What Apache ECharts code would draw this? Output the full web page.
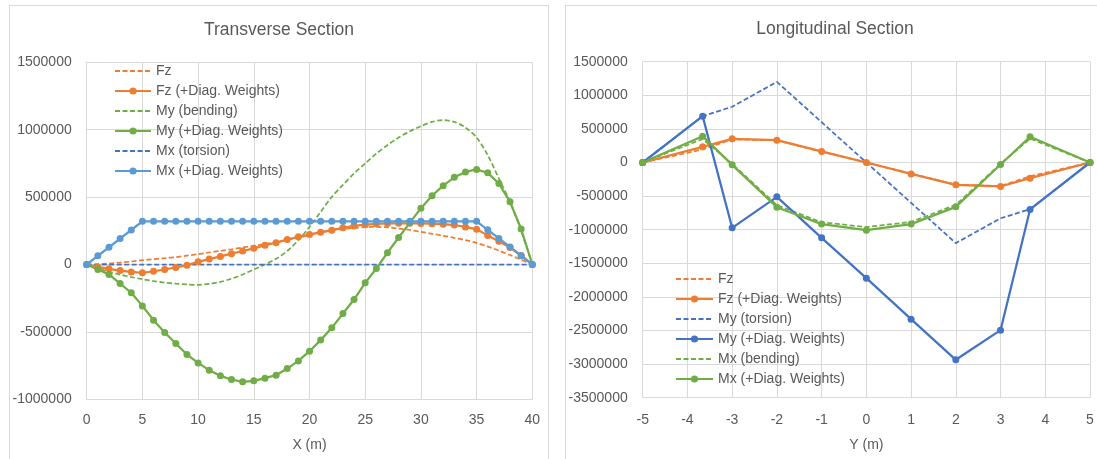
<!DOCTYPE html>
<html>
<head>
<meta charset="utf-8">
<script src="https://cdn.jsdelivr.net/npm/echarts@6/dist/echarts.min.js"></script>
<style>
  html, body { margin: 0; padding: 0; background: #fff; }
  body { width: 1097px; height: 459px; position: relative; overflow: hidden; }
  .frame { position: absolute; border: 1px solid #d9d9d9; background: #fff; }
  #chart { position: absolute; left: 0; top: 0; width: 1097px; height: 459px; }
</style>
</head>
<body>
<div class="frame" style="left:9px;top:5px;width:538px;height:470px;"></div>
<div class="frame" style="left:565px;top:5px;width:540px;height:470px;"></div>
<div id="chart"></div>
<script>
// ---------- Transverse section (X in m) ----------
const xT = [0,1,2,3,4,5,6,7,8,9,10,11,12,13,14,15,16,17,18,19,20,21,22,23,24,25,26,27,28,29,30,31,32,33,34,35,36,37,38,39,40];
const fzT = [0,2000,7000,14000,22000,32000,40000,47000,55000,66000,77000,89000,101000,113000,126000,138000,152000,166000,181000,199000,218000,237000,253000,264000,272000,277000,279000,275000,267000,256000,242000,228000,213000,197000,181000,160000,133000,103000,70000,36000,0];
const fzDiagT = [0,-18000,-32000,-45000,-55000,-62000,-50000,-37000,-22000,-5000,20000,40000,60000,80000,100000,120000,143000,162000,185000,206000,222000,240000,255000,272000,286000,295000,302000,305000,306000,306000,305000,303000,299000,293000,279000,261000,216000,172000,126000,67000,0];
const myBendT = [0,-28000,-54000,-75000,-93000,-109000,-123000,-134000,-142000,-148000,-151000,-143000,-129000,-105000,-74000,-37000,0,42000,100000,180000,279000,390000,502000,590000,675000,749000,823000,885000,942000,988000,1026000,1058000,1071000,1058000,1016000,942000,811000,638000,465000,250000,0];
const myDiagT = [0,-37000,-74000,-141000,-210000,-307000,-413000,-504000,-586000,-668000,-730000,-784000,-826000,-853000,-870000,-863000,-843000,-821000,-772000,-715000,-643000,-561000,-470000,-364000,-260000,-136000,-30000,88000,200000,309000,418000,510000,585000,647000,687000,705000,680000,601000,465000,263000,0];
const mxTorT = [0,0,0,0,0,0,0,0,0,0,0,0,0,0,0,0,0,0,0,0,0,0,0,0,0,0,0,0,0,0,0,0,0,0,0,0,0,0,0,0,0];
const mxDiagT = [0,64000,128000,192000,256000,320000,320000,320000,320000,320000,320000,320000,320000,320000,320000,320000,320000,320000,320000,320000,320000,320000,320000,320000,320000,320000,320000,320000,320000,320000,320000,320000,320000,320000,320000,320000,257000,193000,130000,64000,0];

// ---------- Longitudinal section (Y in m) ----------
const yL = [-5,-3.66,-3,-2,-1,0,1,2,3,3.66,5];
const fzL = [0,195000,345000,330000,160000,0,-165000,-330000,-350000,-205000,0];
const fzDiagL = [0,233000,352000,332000,165000,0,-170000,-332000,-357000,-233000,0];
const myTorL = [0,690000,830000,1200000,600000,0,-600000,-1200000,-830000,-695000,0];
const myDiagL = [0,690000,-972000,-511000,-1121000,-1721000,-2331000,-2936000,-2495000,-699000,0];
const mxBendL = [0,350000,-20000,-635000,-890000,-960000,-885000,-630000,-20000,355000,0];
const mxDiagL = [0,392000,-35000,-665000,-917000,-1007000,-917000,-660000,-30000,382000,0];

const namesT = ['Fz','Fz (+Diag. Weights)','My (bending)','My (+Diag. Weights)','Mx (torsion)','Mx (+Diag. Weights)'];
const namesL = ['Fz','Fz (+Diag. Weights)','My (torsion)','My (+Diag. Weights)','Mx (bending)','Mx (+Diag. Weights)'];

const ORANGE = '#ED7D31', GREEN = '#70AD47', BLUE = '#4472C4', LBLUE = '#5B9BD5';
const TXT = '#595959', GRID = '#d9d9d9';
const FONT = 'Liberation Sans, Arial, sans-serif';
const ZW = '\u200b'; // keeps the two legends' series apart

function pairs(xs, ys) { return xs.map((x, i) => [x, ys[i]]); }

function dashed(name, xs, ys, color, idx, smooth) {
  return {
    name: name, type: 'line', xAxisIndex: idx, yAxisIndex: idx,
    data: pairs(xs, ys), symbol: 'none', smooth: smooth ? 0.3 : false,
    lineStyle: { color: color, width: 1.75, type: [5, 2.5] },
    itemStyle: { color: color }, z: 2
  };
}
function marked(name, xs, ys, color, idx) {
  return {
    name: name, type: 'line', xAxisIndex: idx, yAxisIndex: idx,
    data: pairs(xs, ys), symbol: 'circle', symbolSize: 7, showSymbol: true,
    lineStyle: { color: color, width: 2.25 },
    itemStyle: { color: color }, z: 3
  };
}

function legendData(names, dashedIdx, suffix) {
  return names.map((n, i) => dashedIdx.indexOf(i) >= 0
    ? { name: n + suffix, itemStyle: { opacity: 0 } }
    : { name: n + suffix });
}

const axisLabel = { color: TXT, fontSize: 14, fontFamily: FONT, formatter: v => String(v) };

const chart = echarts.init(document.getElementById('chart'), null, { renderer: 'canvas' });
chart.setOption({
  animation: false,
  backgroundColor: 'transparent',
  title: [
    { text: 'Transverse Section', left: 279, top: 21, padding: 0, textAlign: 'center',
      textStyle: { color: TXT, fontSize: 17.5, fontWeight: 'normal', fontFamily: FONT } },
    { text: 'Longitudinal Section', left: 835, top: 20, padding: 0, textAlign: 'center',
      textStyle: { color: TXT, fontSize: 17.5, fontWeight: 'normal', fontFamily: FONT } }
  ],
  grid: [
    { left: 86.7, top: 62.3, width: 445.6, height: 337, containLabel: false },
    { left: 642.7, top: 61.7, width: 447.3, height: 336, containLabel: false }
  ],
  legend: [
    { orient: 'vertical', left: 114, top: 63, padding: 0, itemWidth: 36, itemHeight: 9, itemGap: 4,
      textStyle: { color: TXT, fontSize: 14, fontFamily: FONT, lineHeight: 16 },
      data: legendData(namesT, [0, 2, 4], ''), selectedMode: false },
    { orient: 'vertical', left: 675, top: 271, padding: 0, itemWidth: 37, itemHeight: 9, itemGap: 4,
      textStyle: { color: TXT, fontSize: 14, fontFamily: FONT, lineHeight: 16 },
      data: legendData(namesL, [0, 2, 4], ZW), selectedMode: false }
  ],
  xAxis: [
    { type: 'value', gridIndex: 0, min: 0, max: 40, interval: 5,
      name: 'X (m)', nameLocation: 'middle', nameGap: 39,
      nameTextStyle: { color: TXT, fontSize: 14, fontFamily: FONT },
      axisLine: { show: true, onZero: false, lineStyle: { color: GRID } },
      axisTick: { show: false }, axisLabel: Object.assign({ margin: 14 }, axisLabel),
      splitLine: { show: true, lineStyle: { color: GRID, width: 1 } } },
    { type: 'value', gridIndex: 1, min: -5, max: 5, interval: 1,
      name: 'Y (m)', nameLocation: 'middle', nameGap: 40,
      nameTextStyle: { color: TXT, fontSize: 14, fontFamily: FONT },
      axisLine: { show: true, onZero: false, lineStyle: { color: GRID } },
      axisTick: { show: false }, axisLabel: Object.assign({ margin: 15 }, axisLabel),
      splitLine: { show: true, lineStyle: { color: GRID, width: 1 } } }
  ],
  yAxis: [
    { type: 'value', gridIndex: 0, min: -1000000, max: 1500000, interval: 500000,
      axisLine: { show: true, lineStyle: { color: GRID } },
      axisTick: { show: false }, axisLabel: Object.assign({ margin: 15 }, axisLabel),
      splitLine: { show: true, lineStyle: { color: GRID, width: 1 } } },
    { type: 'value', gridIndex: 1, min: -3500000, max: 1500000, interval: 500000,
      axisLine: { show: true, lineStyle: { color: GRID } },
      axisTick: { show: false }, axisLabel: Object.assign({ margin: 15 }, axisLabel),
      splitLine: { show: true, lineStyle: { color: GRID, width: 1 } } }
  ],
  series: [
    dashed(namesT[0], xT, fzT, ORANGE, 0, true),
    marked(namesT[1], xT, fzDiagT, ORANGE, 0),
    dashed(namesT[2], xT, myBendT, GREEN, 0, true),
    marked(namesT[3], xT, myDiagT, GREEN, 0),
    dashed(namesT[4], xT, mxTorT, BLUE, 0, false),
    marked(namesT[5], xT, mxDiagT, LBLUE, 0),

    dashed(namesL[0] + ZW, yL, fzL, ORANGE, 1, false),
    marked(namesL[1] + ZW, yL, fzDiagL, ORANGE, 1),
    dashed(namesL[2] + ZW, yL, myTorL, BLUE, 1, false),
    marked(namesL[3] + ZW, yL, myDiagL, BLUE, 1),
    dashed(namesL[4] + ZW, yL, mxBendL, GREEN, 1, false),
    marked(namesL[5] + ZW, yL, mxDiagL, GREEN, 1)
  ]
});
</script>
</body>
</html>
